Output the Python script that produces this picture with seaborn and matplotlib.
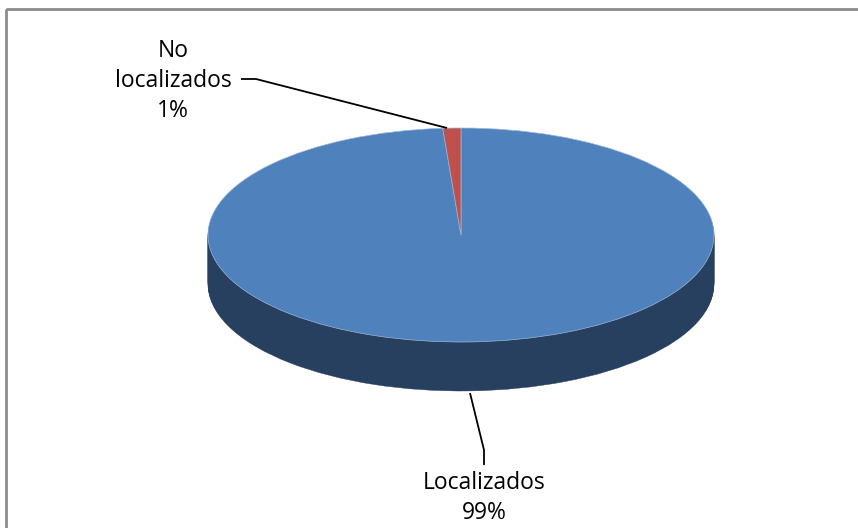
import matplotlib
matplotlib.use("Agg")
import matplotlib.pyplot as plt
import numpy as np
import seaborn as sns
from matplotlib.patches import Rectangle

categories = ["Localizados", "No localizados"]
values = [98.85, 1.15]
labels = ["Localizados\n99%", "No\nlocalizados\n1%"]
top_colors = sns.color_palette(["#4F81BD", "#C0504D"])
side_colors = sns.color_palette(["#27405F", "#27405F"])

W, H = 858, 528
cx, cy, rx, ry, depth = 461, 235, 253, 107, 49

sns.set_theme(style="white")
plt.rcParams["font.family"] = ["Open Sans", "DejaVu Sans"]

fig = plt.figure(figsize=(W / 100, H / 100), dpi=100, facecolor="white")
ax = fig.add_axes([0, 0, 1, 1])

# extruded side: the same pie repeated downward
for off in np.arange(depth, 0, -1.0):
    ax.pie(values, colors=side_colors, startangle=90, counterclock=False,
           center=(0, -off / ry), radius=1, wedgeprops={"linewidth": 0.3, "edgecolor": "#27405F"})
ax.pie(values, colors=top_colors, startangle=90, counterclock=False,
       center=(0, 0), radius=1, wedgeprops={"linewidth": 0.5, "edgecolor": "#9DB8DA"})

ax.set_aspect("auto")
ax.set_xlim(-cx / rx, (W - cx) / rx)
ax.set_ylim((cy - H) / ry, cy / ry)
ax.axis("off")

# overlay in image pixels for frame, leader lines and labels
ov = fig.add_axes([0, 0, 1, 1], facecolor="none")
ov.set_xlim(0, W)
ov.set_ylim(H, 0)
ov.axis("off")
ov.add_patch(Rectangle((6, 9), W + 20, H + 20, fill=False, edgecolor="#8C8C8C", linewidth=2, clip_on=True))
ov.plot([241, 256, 447], [79, 79, 128], color="black", lw=1.3, solid_capstyle="butt")
ov.plot([470, 484, 484], [393, 450, 465], color="black", lw=1.3, solid_capstyle="butt")

ov.text(173, 81, labels[1], ha="center", va="center", fontsize=16.5, color="black", linespacing=1.31)
ov.text(484, 498, labels[0], ha="center", va="center", fontsize=16.5, color="black", linespacing=1.31)

fig.savefig("out.png", dpi=100, facecolor="white")
